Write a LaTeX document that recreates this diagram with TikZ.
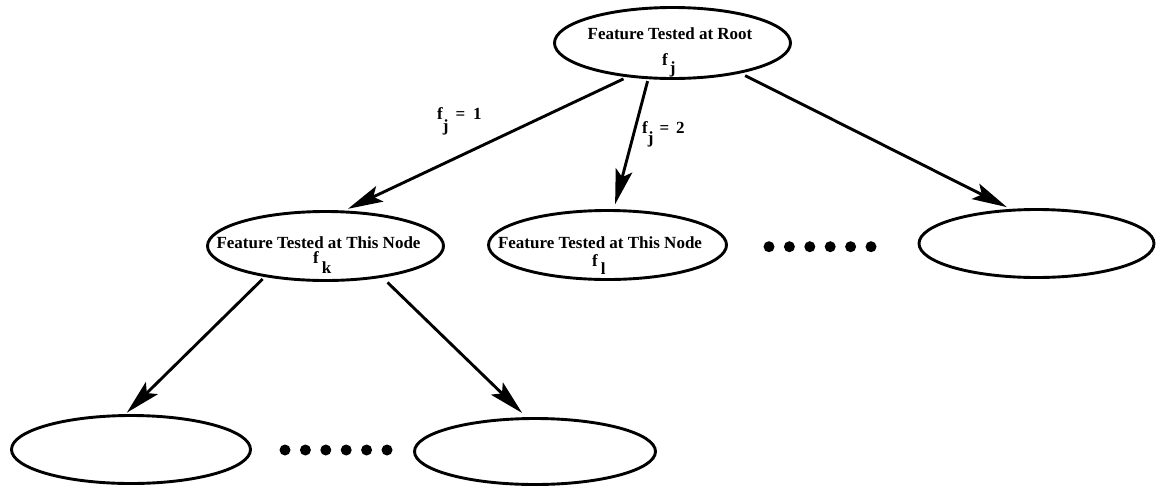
\documentclass[tikz,border=0pt]{standalone}
\usepackage{fontspec}
\setmainfont{Liberation Serif}
\usetikzlibrary{arrows.meta,shapes.geometric}

% feature symbol with a lowered index
\newcommand\featsym[3]{f\kern#2\raisebox{-#3}{#1}}

\tikzset{
  oval/.style={draw, ellipse, line width=2.9pt, inner sep=0pt},
  txt/.style={inner sep=0pt, font=\fontsize{17}{20}\selectfont\bfseries},
  conn/.style={line width=2.9pt, -{Stealth[length=35pt,width=17pt,inset=7pt]}},
}

\begin{document}
\begin{tikzpicture}[x=1pt, y=-1pt]
\useasboundingbox (0,0) rectangle (1156,488);

% tree nodes
\node[oval, minimum width=236pt, minimum height=71pt] (root) at (672.5,43) {};
\node[oval, minimum width=236pt, minimum height=69pt] (lm) at (325.5,246) {};
\node[oval, minimum width=238pt, minimum height=69pt] (mid) at (607.5,245) {};
\node[oval, minimum width=235pt, minimum height=68pt] (rt) at (1036.5,243.5) {};
\node[oval, minimum width=239pt, minimum height=68pt] (bl) at (131,449.5) {};
\node[oval, minimum width=241pt, minimum height=66pt] (br) at (535,451.5) {};

% texts inside the nodes
\node[txt, anchor=base] (rootT) at (670,39) {Feature Tested at Root};
\node[txt, anchor=base west] (rootF) at (662,65) {\featsym{j}{2pt}{8pt}};
\node[txt, anchor=base] (lmT) at (318.5,248) {Feature Tested at This Node};
\node[txt, anchor=base west] (lmF) at (313,263) {\featsym{k}{3pt}{10pt}};
\node[txt, anchor=base] (midT) at (600,248) {Feature Tested at This Node};
\node[txt, anchor=base west] (midF) at (592,266) {\featsym{l}{3pt}{8pt}};

% branches
\draw[conn, shorten <=4pt, shorten >=4pt] (root.217) -- (lm.62);
\draw[conn, shorten <=2pt, shorten >=5pt] (root.236) -- (mid.80);
\draw[conn, shorten <=5pt, shorten >=4pt] (root.336) -- (rt.127);
\draw[conn, shorten <=3pt, shorten >=2pt] (lm.207) -- (bl.99);
\draw[conn, shorten <=7pt, shorten >=6pt] (lm.331) -- (br.104);

% branch labels
\node[txt, anchor=base west] (lab1) at (437,119)
  {f\raisebox{-12pt}{j}\hspace{7pt}=\hspace{8pt}1};
\node[txt, anchor=base west] (lab2) at (642,133)
  {f\raisebox{-10pt}{j}\hspace{6pt}=\hspace{7pt}2};

% ellipsis dots
\foreach \i in {0,...,5} {
  \fill (769+20.4*\i,246.7) circle (5.5pt);
  \fill (285+20.4*\i,450) circle (5.5pt);
}
\end{tikzpicture}
\end{document}
